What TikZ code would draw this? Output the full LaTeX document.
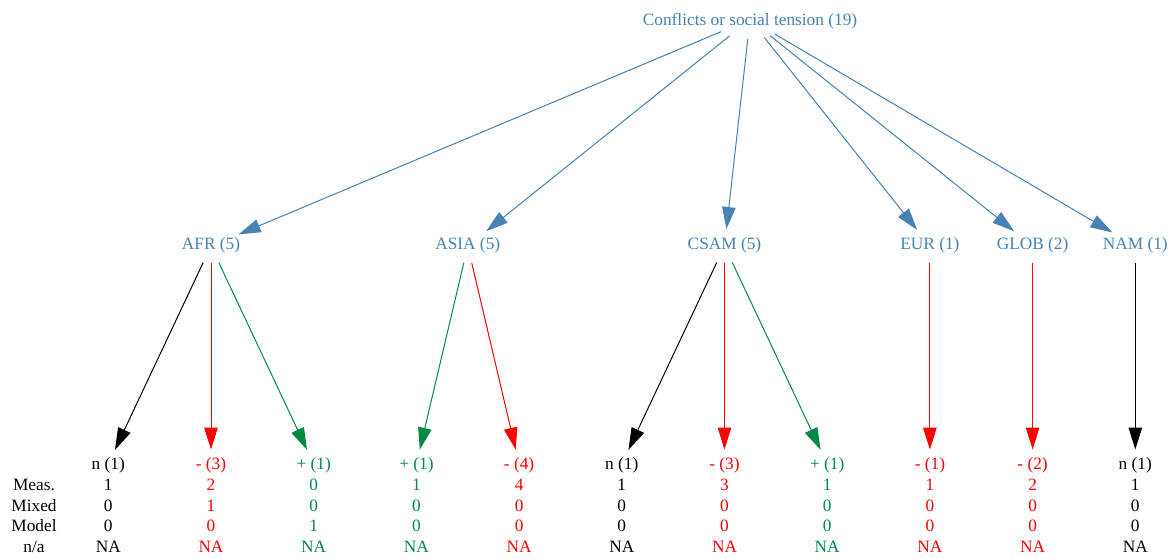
\documentclass[tikz,border=0pt]{standalone}
\usepackage{fontspec}
\setmainfont{Liberation Serif}
\usetikzlibrary{arrows.meta,shapes.geometric}
\definecolor{cblue}{HTML}{4682B4}
\definecolor{cred}{HTML}{FF0000}
\definecolor{cgreen}{HTML}{008B45}
\newcommand\ctext[2][0pt]{\makebox[0pt]{\smash{\raisebox{\dimexpr#1-5.7pt\relax}{#2}}}}
\begin{document}
\begin{tikzpicture}[x=1pt,y=-1pt,
  font=\fontsize{17.3}{20}\selectfont,
  every node/.style={inner sep=0pt, outer sep=0pt},
  rootnode/.style={ellipse, minimum width=74pt, minimum height=39pt, text=cblue},
  midnode/.style={ellipse, minimum width=76pt, minimum height=34pt, text=cblue},
  leafnode/.style={ellipse, minimum width=60pt, minimum height=29pt},
  arr/.style={line width=1pt, -{Triangle[length=22pt,width=13.5pt]}},
]
\useasboundingbox (0,0) rectangle (1173,559);

\node[rootnode] (root) at (750,19.5) {\ctext{Conflicts or social tension (19)}};

\node[midnode] (afr)  at (211,246)    {\ctext[2.5pt]{AFR (5)}};
\node[midnode] (asia) at (467.75,246) {\ctext[2.5pt]{ASIA (5)}};
\node[midnode] (csam) at (724.5,246)  {\ctext[2.5pt]{CSAM (5)}};
\node[midnode] (eur)  at (929.9,246)  {\ctext[2.5pt]{EUR (1)}};
\node[midnode] (glob) at (1032.6,246) {\ctext[2.5pt]{GLOB (2)}};
\node[midnode] (nam)  at (1135.3,246) {\ctext[2.5pt]{NAM (1)}};

\foreach \i/\x/\c/\h/\a/\b/\d in {
  1/108.3/black/n (1)/1/0/0,
  2/211/cred/- (3)/2/1/0,
  3/313.7/cgreen/+ (1)/0/0/1,
  4/416.4/cgreen/+ (1)/1/0/0,
  5/519.1/cred/- (4)/4/0/0,
  6/621.8/black/n (1)/1/0/0,
  7/724.5/cred/- (3)/3/0/0,
  8/827.2/cgreen/+ (1)/1/0/0,
  9/929.9/cred/- (1)/1/0/0,
  10/1032.6/cred/- (2)/2/0/0,
  11/1135.3/black/n (1)/1/0/0}{
  \node[leafnode, text=\c] (l\i) at (\x,464) {\ctext{\h}};
  \node[text=\c] (meas\i)  at (\x,484.5) {\ctext{\a}};
  \node[text=\c] (mixed\i) at (\x,505.3) {\ctext{\b}};
  \node[text=\c] (model\i) at (\x,526.1) {\ctext{\d}};
  \node[text=\c] (na\i)    at (\x,547)   {\ctext{NA}};
}

\node (rmeas)  at (34,484.5) {\ctext{Meas.}};
\node (rmixed) at (34,505.3) {\ctext{Mixed}};
\node (rmodel) at (34,526.1) {\ctext{Model}};
\node (rna)    at (34,547)   {\ctext{n/a}};

\draw[arr, cblue] (root) -- (afr);
\draw[arr, cblue] (root) -- (asia);
\draw[arr, cblue] (root) -- (csam);
\draw[arr, cblue] (root) -- (eur);
\draw[arr, cblue] (root) -- (glob);
\draw[arr, cblue] (root) -- (nam);

\draw[arr, black]  (afr) -- (l1);
\draw[arr, cred]   (afr) -- (l2);
\draw[arr, cgreen] (afr) -- (l3);
\draw[arr, cgreen] (asia) -- (l4);
\draw[arr, cred]   (asia) -- (l5);
\draw[arr, black]  (csam) -- (l6);
\draw[arr, cred]   (csam) -- (l7);
\draw[arr, cgreen] (csam) -- (l8);
\draw[arr, cred]   (eur) -- (l9);
\draw[arr, cred]   (glob) -- (l10);
\draw[arr, black]  (nam) -- (l11);
\end{tikzpicture}
\end{document}
